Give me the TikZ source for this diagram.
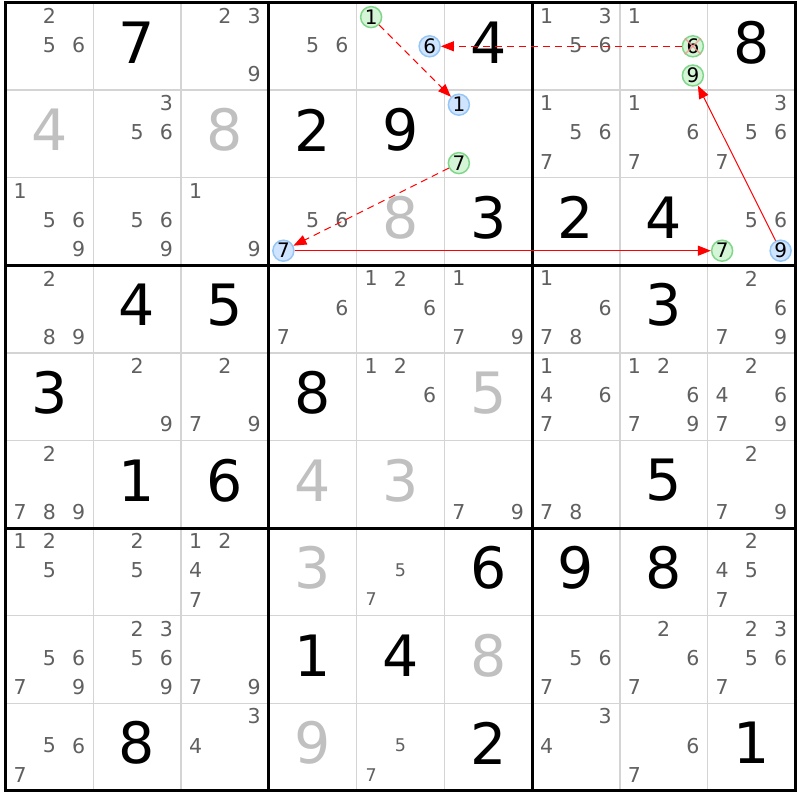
\documentclass[tikz,border=0pt]{standalone}
\usepackage{fontspec}
\setmainfont{DejaVu Sans}
\usepackage{xcolor}
\usetikzlibrary{arrows.meta}
\definecolor{candgrey}{RGB}{96,96,96}
\definecolor{solvedgrey}{RGB}{192,192,192}
\definecolor{gridgrey}{RGB}{212,212,212}
\definecolor{greenfill}{RGB}{212,245,214}
\definecolor{greendraw}{RGB}{130,214,140}
\definecolor{bluefill}{RGB}{207,228,255}
\definecolor{bluedraw}{RGB}{150,198,245}

\begin{document}
\begin{tikzpicture}[x=87.75pt, y=-87.6pt,
    given/.style={font=\fontsize{57}{57}\selectfont, inner sep=0pt, yshift=4pt},
    solved/.style={given, text=solvedgrey},
    cand/.style={font=\fontsize{20.5}{20.5}\selectfont, text=candgrey, inner sep=0pt, yshift=1.5pt},
    smallcand/.style={cand, font=\fontsize{17.5}{17.5}\selectfont},
    greencand/.style={circle, draw=greendraw, fill=greenfill, line width=1.5pt, minimum size=21pt, inner sep=0pt, font=\fontsize{20}{20}\selectfont},
    bluecand/.style={greencand, draw=bluedraw, fill=bluefill},
    weaklink/.style={red, line width=1pt, dash pattern=on 7pt off 5pt, -{Triangle[length=13pt,width=10pt]}},
    stronglink/.style={red, line width=1pt, -{Triangle[length=13pt,width=10pt]}}]
    % Page
    \fill[white] (-0.0627,-0.0285) rectangle (9.0541,9.1039);
    \useasboundingbox (-0.0627,-0.0285) rectangle (9.0541,9.1039);

    % Grid
    \foreach \i in {1,...,8} {
        \draw[gridgrey, line width=1.5pt] (\i,0) -- (\i,9);
        \draw[gridgrey, line width=1.5pt] (0,\i) -- (9,\i);
    }
    \foreach \i in {0,3,6,9} {
        \draw[line width=3pt, line cap=rect] (\i,0) -- (\i,9);
        \draw[line width=3pt, line cap=rect] (0,\i) -- (9,\i);
    }

    % Givens
    \foreach \c/\r/\d in {2/1/7, 6/1/4, 9/1/8, 4/2/2, 5/2/9, 6/3/3, 7/3/2, 8/3/4,
        2/4/4, 3/4/5, 8/4/3, 1/5/3, 4/5/8, 2/6/1, 3/6/6, 8/6/5,
        6/7/6, 7/7/9, 8/7/8, 4/8/1, 5/8/4, 2/9/8, 6/9/2, 9/9/1}
        \node[given] (v\c\r) at (\c-0.5,\r-0.5) {\d};

    % Solved cells
    \foreach \c/\r/\d in {1/2/4, 3/2/8, 5/3/8, 6/5/5, 4/6/4, 5/6/3, 4/7/3, 6/8/8, 4/9/9}
        \node[solved] (v\c\r) at (\c-0.5,\r-0.5) {\d};

    % Candidates
    \foreach \c/\r/\l in {1/1/{2,5,6}, 3/1/{2,3,9}, 4/1/{5,6}, 7/1/{1,3,5,6}, 8/1/{1},
        2/2/{3,5,6}, 7/2/{1,5,6,7}, 8/2/{1,6,7}, 9/2/{3,5,6,7},
        1/3/{1,5,6,9}, 2/3/{5,6,9}, 3/3/{1,9}, 4/3/{5,6}, 9/3/{5,6},
        1/4/{2,8,9}, 4/4/{6,7}, 5/4/{1,2,6}, 6/4/{1,7,9}, 7/4/{1,6,7,8}, 9/4/{2,6,7,9},
        2/5/{2,9}, 3/5/{2,7,9}, 5/5/{1,2,6}, 7/5/{1,4,6,7}, 8/5/{1,2,6,7,9}, 9/5/{2,4,6,7,9},
        1/6/{2,7,8,9}, 6/6/{7,9}, 7/6/{7,8}, 9/6/{2,7,9},
        1/7/{1,2,5}, 2/7/{2,5}, 3/7/{1,2,4,7}, 9/7/{2,4,5,7},
        1/8/{5,6,7,9}, 2/8/{2,3,5,6,9}, 3/8/{7,9}, 7/8/{5,6,7}, 8/8/{2,6,7}, 9/8/{2,3,5,6,7},
        1/9/{5,6,7}, 3/9/{3,4}, 7/9/{3,4}, 8/9/{6,7}}
        \foreach \k in \l
            \node[cand] (k\c\r\k) at ({\c-1+(mod(\k-1,3)+0.5)/3},{\r-1+(int((\k-1)/3)+0.5)/3}) {\k};
    \foreach \c/\r/\l in {5/7/{5,7}, 5/9/{5,7}}
        \foreach \k in \l
            \node[smallcand] (k\c\r\k) at ({\c-1+(mod(\k-1,3)+0.5)/3},{\r-1+(int((\k-1)/3)+0.5)/3}) {\k};

    % Chain candidates
    \node[greencand] (g1) at ({4+1/6},{1/6}) {1};
    \node[bluecand] (b6) at ({4+5/6},{1/2}) {6};
    \node[greencand] (g6) at ({7+5/6},{1/2}) {6};
    \node[greencand] (g9) at ({7+5/6},{5/6}) {9};
    \node[bluecand] (b1) at ({5+1/6},{1+1/6}) {1};
    \node[greencand] (g7) at ({5+1/6},{1+5/6}) {7};
    \node[bluecand] (b7) at ({3+1/6},{2+5/6}) {7};
    \node[greencand] (h7) at ({8+1/6},{2+5/6}) {7};
    \node[bluecand] (b9) at ({8+5/6},{2+5/6}) {9};

    % Elimination
    \draw[red!45, opacity=0.75, line width=1.5pt] (g6.north west) -- (g6.south east);
    \draw[red!45, opacity=0.75, line width=1.5pt] (g6.north east) -- (g6.south west);

    % Links
    \draw[weaklink] (g1) -- (b1);
    \draw[weaklink] (g6) -- (b6);
    \draw[weaklink] (g7) -- (b7);
    \draw[stronglink] (b7) -- (h7);
    \draw[stronglink] (b9) -- (g9);
\end{tikzpicture}
\end{document}
